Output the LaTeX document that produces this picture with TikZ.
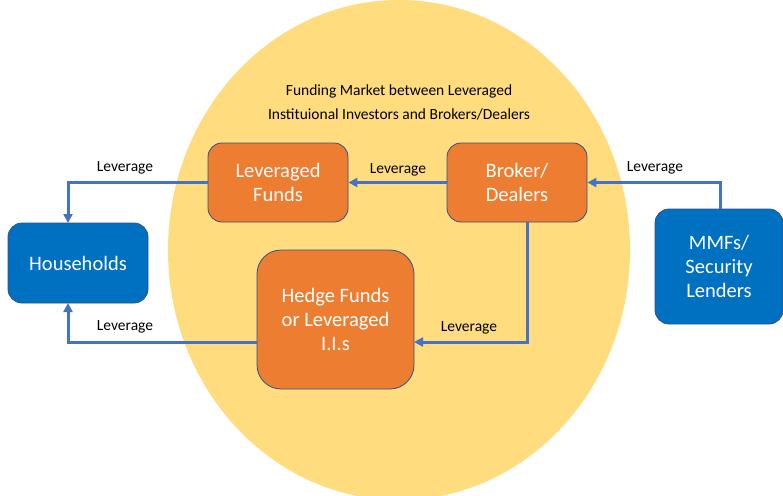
\documentclass[tikz,border=0pt]{standalone}
\usepackage{fontspec}
\setmainfont{Carlito}
\usetikzlibrary{arrows.meta}
\definecolor{ringfill}{HTML}{FFDC7E}
\definecolor{orangebox}{HTML}{ED7D31}
\definecolor{bluebox}{HTML}{0070C0}
\definecolor{edgeblue}{HTML}{2F528F}
\definecolor{flowblue}{HTML}{4472C4}
\begin{document}
\begin{tikzpicture}[x=1pt,y=-1pt,
  box/.style={draw=edgeblue, line width=0.8pt, rounded corners=14pt, text=white,
    font=\fontsize{20.5}{24}\selectfont, align=center, inner sep=0pt},
  orangenode/.style={box, fill=orangebox},
  bluenode/.style={box, fill=bluebox},
  flow/.style={draw=flowblue, line width=3pt, -{Triangle[length=9pt,width=9pt]}},
  lbl/.style={font=\fontsize{15.5}{18}\selectfont, text=black}]
\useasboundingbox (0,0) rectangle (783,495);
\fill[white] (0,0) rectangle (783,495);
% funding market region
\begin{scope}
\clip (0,0) rectangle (783,495);
\fill[ringfill] (399,250) ellipse [x radius=231, y radius=250];
\end{scope}
\node[font=\fontsize{15.5}{24}\selectfont, align=center] (title) at (399,102)
  {Funding Market between Leveraged\\Instituional Investors and Brokers/Dealers};
% participants
\node[orangenode, minimum width=140pt, minimum height=79pt] (lev) at (278,182.5) {Leveraged\\Funds};
\node[orangenode, minimum width=140pt, minimum height=79pt] (bd) at (517,182.5) {Broker/\\Dealers};
\node[bluenode, minimum width=140pt, minimum height=80pt] (hh) at (78,263) {Households};
\node[orangenode, rounded corners=24pt, minimum width=157pt, minimum height=139pt] (hf) at (335.5,319.5) {Hedge Funds\\or Leveraged\\I.I.s};
\node[bluenode, minimum width=128pt, minimum height=115pt] (mmf) at (719,266.5) {MMFs/\\Security\\Lenders};
% attachment points of the flows
\coordinate (hhtop) at (68,223);
\coordinate (hhbot) at (68,303);
\coordinate (hfout) at (257,342);
\coordinate (hfin) at (414,342);
\coordinate (bdbot) at (527,222);
\coordinate (mmftop) at (720,209);
% leverage flows
\draw[flow] (lev.west) -| (hhtop);
\draw[flow] (hfout) -| (hhbot);
\draw[flow] (bd.west) -- (lev.east);
\draw[flow] (bdbot) |- (hfin);
\draw[flow] (mmftop) |- (bd.east);
% labels
\node[lbl] (l1) at (125,168) {Leverage};
\node[lbl] (l2) at (398,170) {Leverage};
\node[lbl] (l3) at (655,168) {Leverage};
\node[lbl] (l4) at (125,327) {Leverage};
\node[lbl] (l5) at (469,328) {Leverage};
\end{tikzpicture}
\end{document}
